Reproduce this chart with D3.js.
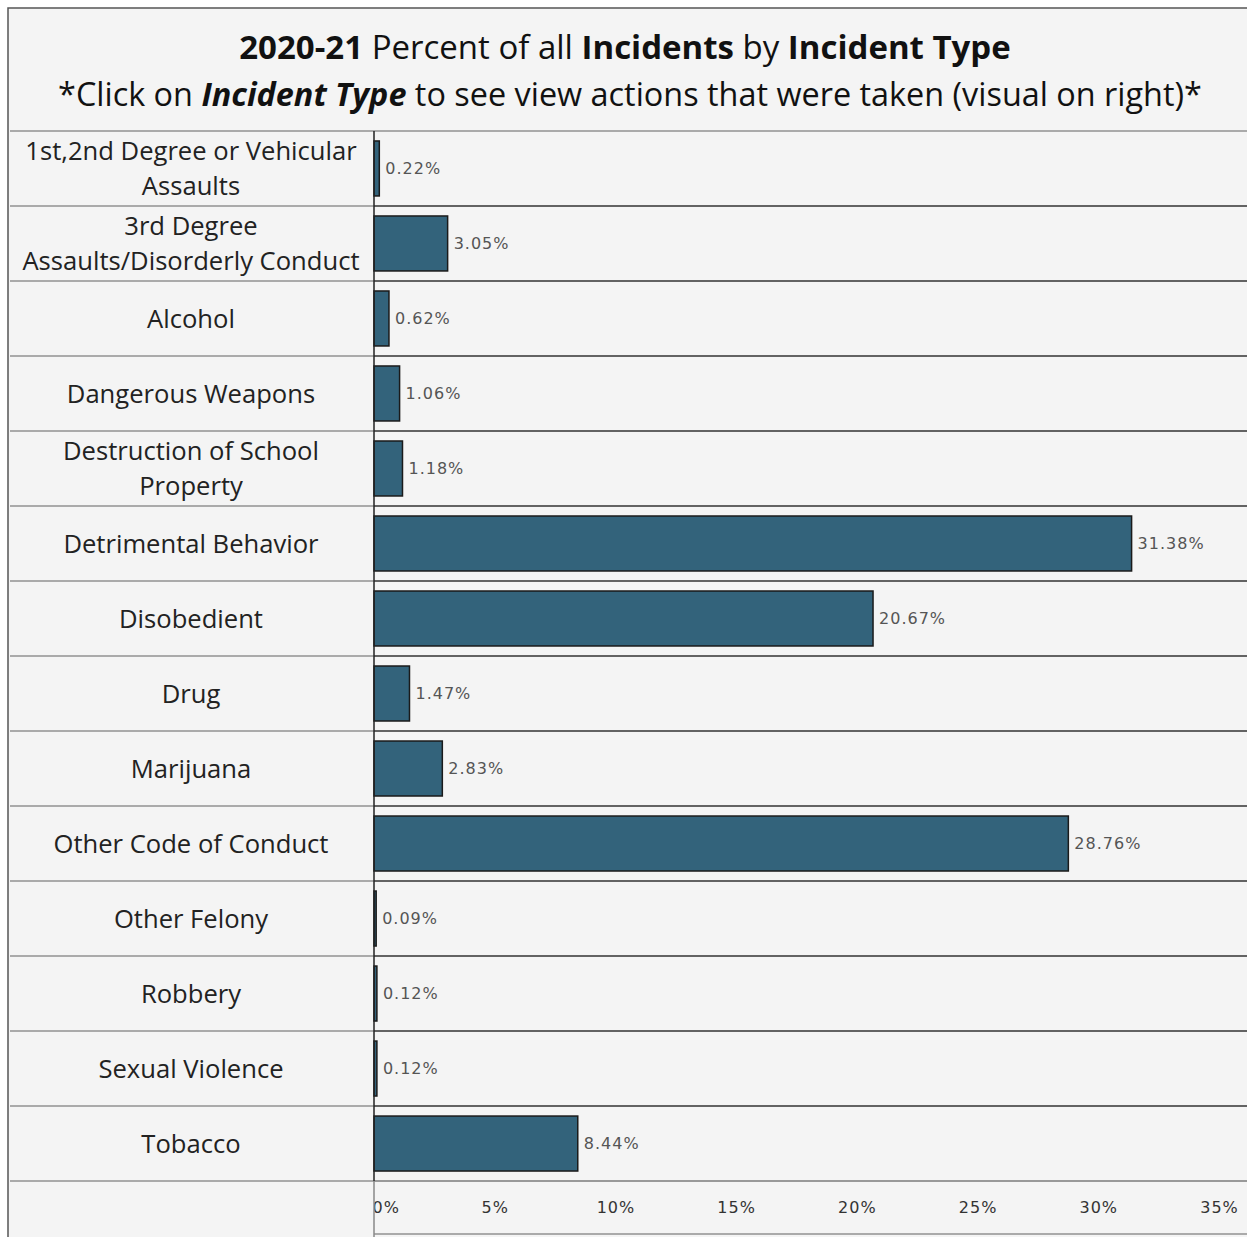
<!DOCTYPE html>
<html>
<head>
<meta charset="utf-8">
<script src="https://cdn.jsdelivr.net/npm/d3@7"></script>
<style>
  body { margin: 0; background: #fff; }
  svg { display: block; }
</style>
</head>
<body>
<div id="chart"></div>
<script>
// Incident types (label lines as shown in the chart)
const categories = [
  "1st,2nd Degree or Vehicular Assaults",
  "3rd Degree Assaults/Disorderly Conduct",
  "Alcohol",
  "Dangerous Weapons",
  "Destruction of School Property",
  "Detrimental Behavior",
  "Disobedient",
  "Drug",
  "Marijuana",
  "Other Code of Conduct",
  "Other Felony",
  "Robbery",
  "Sexual Violence",
  "Tobacco"
];
const labelLines = [
  ["1st,2nd Degree or Vehicular", "Assaults"],
  ["3rd Degree", "Assaults/Disorderly Conduct"],
  ["Alcohol"],
  ["Dangerous Weapons"],
  ["Destruction of School", "Property"],
  ["Detrimental Behavior"],
  ["Disobedient"],
  ["Drug"],
  ["Marijuana"],
  ["Other Code of Conduct"],
  ["Other Felony"],
  ["Robbery"],
  ["Sexual Violence"],
  ["Tobacco"]
];
// Percent of all incidents
const percents = [0.22, 3.05, 0.62, 1.06, 1.18, 31.38, 20.67, 1.47, 2.83, 28.76, 0.09, 0.12, 0.12, 8.44];
const tickValues = [0, 5, 10, 15, 20, 25, 30, 35];

const width = 1247, height = 1237;
const panelLeft = 8, panelTop = 8;
const labelRight = 374;      // end of the label column
const rowsTop = 131, rowsBottom = 1181;
const axisBottom = 1234;
const mainFont = "'Open Sans', Lato, sans-serif";

const data = categories.map((c, i) => ({ category: c, lines: labelLines[i], value: percents[i] }));

const svg = d3.select("#chart")
  .append("svg")
    .attr("width", width)
    .attr("height", height);

// panel background + outer border
svg.append("rect")
  .attr("x", panelLeft).attr("y", panelTop)
  .attr("width", width - panelLeft + 5).attr("height", height - panelTop + 5)
  .attr("fill", "#f4f4f4")
  .attr("stroke", "#555")
  .attr("stroke-width", 1.5);

// Title
const title = svg.append("text")
  .attr("x", 625).attr("y", 59)
  .attr("text-anchor", "middle")
  .style("font-family", mainFont)
  .style("font-size", "33px")
  .attr("fill", "#111");
title.append("tspan").attr("font-weight", 700).text("2020-21");
title.append("tspan").text(" Percent of all ");
title.append("tspan").attr("font-weight", 700).text("Incidents");
title.append("tspan").text(" by ");
title.append("tspan").attr("font-weight", 700).text("Incident Type");

const sub = svg.append("text")
  .attr("x", 630).attr("y", 106)
  .attr("text-anchor", "middle")
  .style("font-family", mainFont)
  .style("font-size", "32.4px")
  .attr("fill", "#111");
sub.append("tspan").text("*Click on ");
sub.append("tspan").attr("font-weight", 700).attr("font-style", "italic").text("Incident Type");
sub.append("tspan").text(" to see view actions that were taken (visual on right)*");

// title separator
svg.append("line")
  .attr("x1", panelLeft + 2).attr("x2", width)
  .attr("y1", rowsTop).attr("y2", rowsTop)
  .attr("stroke", "#aaa").attr("stroke-width", 2);

// Scales
const xScale = d3.scaleLinear()
  .domain([0, 35])
  .range([labelRight, 1219]);

const yScale = d3.scaleBand()
  .domain(categories)
  .range([rowsTop, rowsBottom])
  .paddingInner(0.267)
  .paddingOuter(0.133);

const step = yScale.step();
const rowEdges = d3.range(categories.length + 1).map(i => rowsTop + i * step);

// Row dividers: gray in label column, dark in plot area
svg.append("g")
  .selectAll("line")
  .data(rowEdges.slice(1))
  .join("line")
    .attr("x1", panelLeft + 2).attr("x2", labelRight)
    .attr("y1", d => d).attr("y2", d => d)
    .attr("stroke", "#aaa").attr("stroke-width", 2);

svg.append("g")
  .selectAll("line")
  .data(rowEdges.slice(1, -1))
  .join("line")
    .attr("x1", labelRight).attr("x2", width)
    .attr("y1", d => d).attr("y2", d => d)
    .attr("stroke", "#333").attr("stroke-width", 1.5);

// Axis area borders
svg.append("line")
  .attr("x1", labelRight).attr("x2", width)
  .attr("y1", rowsBottom).attr("y2", rowsBottom)
  .attr("stroke", "#999").attr("stroke-width", 2);
svg.append("line")
  .attr("x1", labelRight).attr("x2", width)
  .attr("y1", axisBottom).attr("y2", axisBottom)
  .attr("stroke", "#aaa").attr("stroke-width", 2);

// Category labels
const labels = svg.append("g")
  .selectAll("text")
  .data(data)
  .join("text")
    .attr("text-anchor", "middle")
    .attr("fill", "#222")
    .style("font-family", mainFont)
    .style("font-size", "25.6px");
labels.each(function(d) {
  const cy = yScale(d.category) + yScale.bandwidth() / 2;
  const lh = 35;
  d.lines.forEach((line, j) => {
    d3.select(this).append("tspan")
      .attr("x", 191)
      .attr("y", cy + (j - (d.lines.length - 1) / 2) * lh)
      .attr("dominant-baseline", "central")
      .text(line);
  });
});

// Bars
svg.append("g")
  .selectAll("rect")
  .data(data)
  .join("rect")
    .attr("x", xScale(0))
    .attr("y", d => yScale(d.category))
    .attr("width", d => xScale(d.value) - xScale(0))
    .attr("height", yScale.bandwidth())
    .attr("fill", "#33637b")
    .attr("stroke", "#1a1a1a")
    .attr("stroke-width", 1.5);

// Value labels
svg.append("g")
  .selectAll("text")
  .data(data)
  .join("text")
    .attr("x", d => xScale(d.value) + 6)
    .attr("y", d => yScale(d.category) + yScale.bandwidth() / 2)
    .attr("dominant-baseline", "central")
    .attr("fill", "#555")
    .style("font-family", "'DejaVu Sans', sans-serif")
    .style("font-size", "16px")
    .style("letter-spacing", "1px")
    .text(d => d.value.toFixed(2) + "%");

// X axis (tick labels only), clipped at the label column edge
svg.append("clipPath").attr("id", "axis-clip")
  .append("rect")
    .attr("x", labelRight).attr("y", rowsBottom)
    .attr("width", width - labelRight).attr("height", axisBottom - rowsBottom);

const xAxis = d3.axisBottom(xScale)
  .tickValues(tickValues)
  .tickSize(0)
  .tickPadding(0)
  .tickFormat(d => d + "%");

const axisG = svg.append("g")
  .attr("clip-path", "url(#axis-clip)")
  .append("g")
    .attr("transform", `translate(0, ${rowsBottom})`)
    .call(xAxis);
axisG.select(".domain").remove();
axisG.selectAll("text")
  .attr("y", 26)
  .attr("dy", "0.35em")
  .attr("fill", "#333")
  .style("font-family", "'DejaVu Sans', sans-serif")
  .style("font-size", "16px")
  .style("letter-spacing", "1px")
  .attr("text-anchor", d => d === 0 ? "start" : "middle")
  .attr("x", d => d === 0 ? -2 : 0);

// Label column divider
svg.append("line")
  .attr("x1", labelRight).attr("x2", labelRight)
  .attr("y1", rowsTop).attr("y2", rowsBottom)
  .attr("stroke", "#222").attr("stroke-width", 1.5);
svg.append("line")
  .attr("x1", labelRight).attr("x2", labelRight)
  .attr("y1", rowsBottom).attr("y2", height)
  .attr("stroke", "#888").attr("stroke-width", 1.5);
</script>
</body>
</html>
